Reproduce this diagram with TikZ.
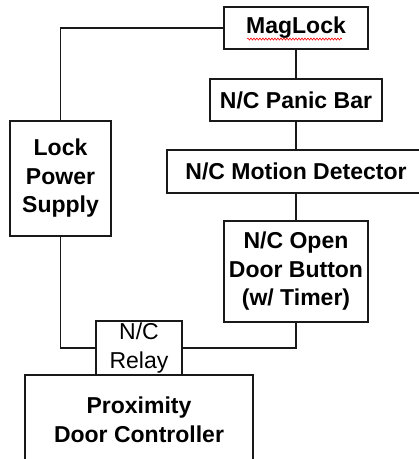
\documentclass[tikz,border=0pt]{standalone}
\usepackage{fontspec}
\setmainfont{Liberation Sans}
\usetikzlibrary{decorations.pathmorphing}
\begin{document}
\begin{tikzpicture}[x=1pt,y=-1pt,
  box/.style={draw=black!90, line width=1.5pt, fill=white, rectangle, inner sep=0pt, align=center,
    font=\fontsize{23}{28.5}\selectfont\bfseries},
  plainbox/.style={box, font=\fontsize{23}{28.5}\selectfont},
  wire/.style={draw=black!90, line width=1.5pt}]
\useasboundingbox (0,0) rectangle (419,459);
\clip (0,0) rectangle (419,459);
\node[box, minimum width=144pt, minimum height=42pt] (mag) at (296,28) {MagLock};
\node[box, minimum width=172pt, minimum height=42pt] (panic) at (296,100) {N/C Panic Bar};
\node[box, minimum width=258pt, minimum height=43pt] (motion) at (296,171.5) {N/C Motion Detector};
\node[box, minimum width=144pt, minimum height=101pt] (open) at (296,271.5) {N/C Open\\Door Button\\(w/ Timer)};
\node[box, minimum width=101pt, minimum height=115pt] (lps) at (60.5,178.5) {Lock\\Power\\Supply};
\node[box, minimum width=228pt, minimum height=90pt] (ctrl) at (139,420) {Proximity\\Door Controller};
\node[plainbox, minimum width=86pt, minimum height=54pt] (relay) at (139,348) {N/C\\Relay};
\draw[wire] (mag.west) -| (lps.north);
\draw[wire] (mag.south) -- (panic.north);
\draw[wire] (panic.south) -- (motion.north);
\draw[wire] (motion.south) -- (open.north);
\draw[wire] (lps.south) |- (relay.west);
\draw[wire] (relay.east) -| (open.south);
\draw[red, line width=0.6pt, decorate, decoration={snake, amplitude=1pt, segment length=3pt}]
  ([xshift=-49pt,yshift=-11pt]mag.center) -- ([xshift=46pt,yshift=-11pt]mag.center);
\end{tikzpicture}
\end{document}
